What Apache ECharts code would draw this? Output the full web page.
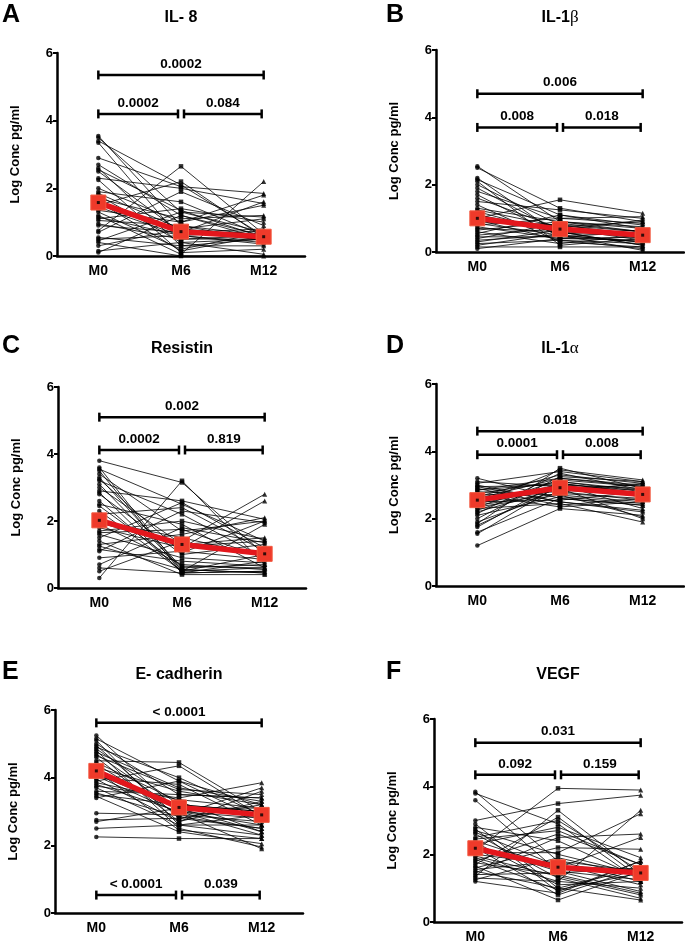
<!DOCTYPE html>
<html>
<head>
<meta charset="utf-8">
<script src="https://cdn.jsdelivr.net/npm/echarts@6/dist/echarts.min.js"></script>
<style>
  html, body { margin: 0; padding: 0; background: #fff; }
  #chart { width: 685px; height: 944px; }
</style>
</head>
<body>
<div id="chart"></div>
<script>
// time points and y ticks
const categories = ["M0", "M6", "M12"];
const yTicks = [0, 2, 4, 6];

// A: IL-8 (one value per subject per time point)
const aM0 = [3.55, 3.5, 3.4, 3.35, 2.9, 2.7, 2.6, 2.55, 2.5, 2.3, 2.25, 1.9, 1.85, 1.8, 1.7, 1.5, 1.45, 1.35, 1.3, 1.2, 1.1, 1.05, 0.95, 0.9, 0.75, 0.7, 0.55, 0.5, 0.45, 0.4, 0.3, 0.15, 0.1, 1.6, 2.0, 1.15];
const aM6 = [0.9, 1.3, 2.1, 0.5, 2.05, 1.2, 0.3, 1.35, 0.7, 2.0, 0.1, 1.6, 0.8, 0.4, 1.1, 2.2, 0.6, 1.0, 0.2, 0.05, 1.4, 0.9, 0.5, 0.7, 2.65, 1.9, 0.3, 0.6, 1.3, 0.0, 0.8, 0.4, 1.2, 0.15, 1.0, 0.6];
const aM12 = [0.6, 0.7, 0.6, 0.5, 1.85, 0.6, 0.5, 0.55, 0.8, 1.55, 0.2, 0.6, 1.1, 0.5, 1.2, 0.55, 0.4, 1.5, 0.7, 2.2, 1.0, 0.45, 0.6, 1.6, 0.65, 0.9, 0.3, 0.75, 1.15, 0.0, 0.6, 0.05, 0.5, 0.6, 1.8, 0.35];
const aMean = [1.58, 0.72, 0.57];
const aP = ["0.0002", "0.0002", "0.084"];

// B: IL-1beta
const bM0 = [2.55, 2.5, 2.2, 2.15, 2.1, 2.0, 1.9, 1.8, 1.7, 1.6, 1.5, 1.4, 1.3, 1.2, 1.1, 1.0, 0.95, 0.9, 0.85, 0.8, 0.75, 0.7, 0.65, 0.6, 0.55, 0.5, 0.45, 0.4, 0.35, 0.3, 0.25, 0.2, 0.15, 0.1, 1.25, 1.05];
const bM6 = [0.9, 1.3, 0.5, 1.1, 0.2, 0.8, 0.6, 1.0, 0.45, 0.7, 1.25, 0.3, 0.9, 0.55, 0.65, 1.55, 0.35, 0.8, 0.5, 1.0, 0.4, 0.6, 0.9, 0.25, 1.1, 0.7, 0.45, 0.85, 0.5, 0.65, 0.35, 0.55, 0.15, 0.4, 0.75, 0.6];
const bM12 = [0.6, 0.9, 0.3, 0.7, 0.4, 0.5, 0.2, 0.85, 0.6, 0.35, 1.0, 0.15, 0.75, 0.5, 0.95, 1.15, 0.1, 0.6, 0.3, 1.05, 0.45, 0.2, 0.7, 0.5, 0.8, 0.4, 0.3, 0.6, 0.05, 0.5, 0.25, 0.65, 0.15, 0.35, 0.9, 0.55];
const bMean = [1.0, 0.68, 0.5];
const bP = ["0.006", "0.008", "0.018"];

// C: Resistin
const cM0 = [3.8, 3.6, 3.55, 3.5, 3.4, 3.3, 3.2, 3.1, 3.0, 2.9, 2.85, 2.8, 2.5, 2.3, 2.2, 2.0, 1.9, 1.8, 1.7, 1.6, 1.5, 1.4, 1.3, 1.15, 1.1, 0.9, 0.7, 0.6, 0.5, 0.3, 2.6, 1.95, 2.45, 1.65, 3.25, 1.25];
const cM6 = [3.15, 0.5, 2.5, 0.45, 1.7, 0.6, 2.2, 0.55, 1.3, 2.6, 0.45, 1.0, 1.9, 0.5, 2.4, 1.5, 0.7, 1.2, 2.0, 0.9, 2.55, 0.4, 1.6, 0.8, 2.3, 1.1, 1.8, 0.45, 1.4, 3.2, 0.5, 1.25, 0.65, 1.75, 1.05, 0.55];
const cM12 = [1.0, 0.6, 1.4, 0.5, 2.0, 0.7, 0.9, 0.45, 1.5, 2.05, 0.8, 1.3, 0.6, 1.9, 1.1, 0.95, 0.55, 2.6, 1.45, 0.75, 1.2, 0.4, 2.1, 0.65, 1.95, 0.85, 1.35, 0.5, 2.8, 0.7, 1.0, 1.4, 0.6, 0.9, 2.0, 0.45];
const cMean = [2.02, 1.3, 1.02];
const cP = ["0.002", "0.0002", "0.819"];

// D: IL-1alpha
const dM0 = [3.2, 3.05, 3.0, 2.95, 2.9, 2.85, 2.8, 2.75, 2.7, 2.65, 2.6, 2.55, 2.5, 2.45, 2.4, 2.35, 2.3, 2.25, 2.2, 2.15, 2.1, 2.0, 1.9, 1.85, 1.8, 1.75, 1.6, 1.55, 1.2, 2.7, 2.6, 2.45, 2.85, 2.35, 3.1, 2.95];
const dM6 = [2.6, 3.4, 2.5, 3.0, 2.4, 3.2, 2.7, 3.1, 2.35, 3.3, 2.85, 3.0, 2.55, 3.45, 2.75, 3.15, 2.45, 3.05, 2.9, 3.35, 2.65, 3.25, 2.8, 3.5, 2.95, 3.1, 2.6, 3.0, 2.3, 2.8, 3.2, 2.9, 3.05, 2.7, 2.95, 2.5];
const dM12 = [2.4, 3.1, 2.2, 2.9, 2.6, 3.0, 2.05, 2.85, 2.5, 3.05, 2.7, 2.3, 2.8, 3.15, 2.6, 2.95, 1.9, 2.75, 3.0, 2.85, 2.45, 3.1, 2.55, 2.9, 2.65, 2.8, 2.4, 2.7, 2.1, 3.05, 2.95, 2.0, 2.75, 2.5, 2.85, 2.25];
const dMean = [2.55, 2.92, 2.72];
const dP = ["0.018", "0.0001", "0.008"];

// E: E-cadherin
const eM0 = [5.25, 5.15, 5.1, 5.0, 4.95, 4.9, 4.85, 4.8, 4.75, 4.7, 4.6, 4.5, 4.45, 4.4, 4.3, 4.2, 4.1, 4.0, 3.95, 3.9, 3.8, 3.75, 3.7, 3.6, 3.55, 3.5, 3.45, 3.4, 2.95, 2.75, 2.7, 2.5, 2.25, 4.65, 4.05, 3.85];
const eM6 = [3.0, 3.9, 2.6, 3.5, 2.8, 4.0, 3.2, 2.5, 3.7, 3.0, 2.7, 4.45, 3.3, 2.9, 3.6, 2.45, 3.1, 3.8, 2.7, 4.35, 3.0, 3.4, 2.6, 3.5, 2.85, 3.2, 2.4, 3.9, 2.9, 2.8, 3.1, 2.6, 2.2, 3.65, 2.95, 3.35];
const eM12 = [2.6, 3.2, 2.3, 3.4, 2.5, 2.9, 3.0, 1.95, 3.3, 2.8, 3.6, 3.0, 2.4, 2.7, 3.2, 2.2, 3.1, 2.6, 3.3, 2.85, 2.3, 3.85, 2.9, 3.4, 2.5, 3.0, 2.05, 2.75, 3.7, 3.2, 2.4, 2.6, 2.2, 3.5, 1.9, 3.1];
const eMean = [4.2, 3.12, 2.9];
const eP = ["< 0.0001", "< 0.0001", "0.039"];

// F: VEGF
const fM0 = [3.85, 3.8, 3.6, 3.0, 2.9, 2.8, 2.75, 2.7, 2.6, 2.5, 2.4, 2.35, 2.3, 2.2, 2.1, 2.0, 1.9, 1.8, 1.75, 1.7, 1.65, 1.6, 1.55, 1.5, 1.45, 1.4, 1.35, 1.3, 1.2, 2.25, 2.05, 1.85, 2.65, 1.95, 2.45, 1.25];
const fM6 = [1.8, 2.9, 1.5, 3.5, 1.0, 2.4, 0.9, 2.0, 1.3, 3.0, 1.6, 1.1, 2.8, 0.8, 3.95, 1.7, 1.2, 2.6, 1.4, 3.1, 0.65, 2.2, 1.8, 1.0, 2.5, 1.45, 3.3, 1.2, 0.85, 1.5, 2.05, 0.95, 1.65, 1.35, 2.7, 1.9];
const fM12 = [1.5, 1.2, 0.9, 3.75, 1.6, 1.3, 1.8, 1.4, 0.7, 1.5, 2.5, 1.2, 1.9, 1.6, 3.9, 1.1, 3.3, 1.7, 0.85, 1.3, 1.5, 2.15, 1.2, 0.65, 2.6, 1.6, 1.4, 1.0, 1.8, 1.25, 3.2, 1.45, 1.55, 0.8, 1.7, 1.35];
const fMean = [2.18, 1.62, 1.45];
const fP = ["0.031", "0.092", "0.159"];

const FONT = "'Liberation Sans', Arial, Helvetica, sans-serif";

// layout of the six panels
const panels = [
  { letter: "A", title: "{b|IL- 8}", m0: aM0, m6: aM6, m12: aM12, mean: aMean, p: aP, levels: [5.35, 4.2, 4.2],
    grid: { left: 57, top: 53, width: 248, height: 203 }, letterPos: [2, 15] },
  { letter: "B", title: "{b|IL-1}{g|β}", m0: bM0, m6: bM6, m12: bM12, mean: bMean, p: bP, levels: [4.7, 3.7, 3.7],
    grid: { left: 436, top: 50, width: 248, height: 202 }, letterPos: [386, 15] },
  { letter: "C", title: "{b|Resistin}", m0: cM0, m6: cM6, m12: cM12, mean: cMean, p: cP, levels: [5.1, 4.12, 4.12],
    grid: { left: 58, top: 387, width: 248, height: 201 }, letterPos: [2, 346] },
  { letter: "D", title: "{b|IL-1}{g|α}", m0: dM0, m6: dM6, m12: dM12, mean: dMean, p: dP, levels: [4.6, 3.9, 3.9],
    grid: { left: 436, top: 384, width: 248, height: 202 }, letterPos: [386, 346] },
  { letter: "E", title: "{b|E- cadherin}", m0: eM0, m6: eM6, m12: eM12, mean: eMean, p: eP, levels: [5.62, 0.53, 0.53],
    grid: { left: 55, top: 710, width: 248, height: 203 }, letterPos: [2, 672] },
  { letter: "F", title: "{b|VEGF}", m0: fM0, m6: fM6, m12: fM12, mean: fMean, p: fP, levels: [5.3, 4.35, 4.35],
    grid: { left: 434, top: 719, width: 248, height: 204 }, letterPos: [386, 672] },
];

const grids = [];
const xAxes = [];
const yAxes = [];
const series = [];
const graphics = [];

panels.forEach(function (pn, gi) {
  grids.push(Object.assign({ containLabel: false }, pn.grid));

  xAxes.push({
    gridIndex: gi,
    type: "category",
    data: categories,
    boundaryGap: true,
    axisLine: { lineStyle: { color: "#000", width: 2.5 } },
    axisTick: { alignWithLabel: true, length: 4, lineStyle: { color: "#000", width: 2 } },
    axisLabel: { color: "#000", fontWeight: "bold", fontSize: 14, fontFamily: FONT, margin: 8 },
    splitLine: { show: false },
  });

  yAxes.push({
    gridIndex: gi,
    type: "value",
    min: yTicks[0],
    max: yTicks[yTicks.length - 1],
    interval: 2,
    name: "Log Conc pg/ml",
    nameLocation: "middle",
    nameGap: 35,
    nameTextStyle: { color: "#000", fontWeight: "bold", fontSize: 13, fontFamily: FONT },
    axisLine: { show: true, lineStyle: { color: "#000", width: 2.5 } },
    axisTick: { show: true, length: 4, lineStyle: { color: "#000", width: 2 } },
    axisLabel: { color: "#000", fontWeight: "bold", fontSize: 13, fontFamily: FONT, margin: 4 },
    splitLine: { show: false },
  });

  // individual subject lines
  pn.m0.forEach(function (v, i) {
    series.push({
      type: "line",
      xAxisIndex: gi,
      yAxisIndex: gi,
      data: [v, pn.m6[i], pn.m12[i]],
      showSymbol: false,
      silent: true,
      lineStyle: { color: "#000", width: 0.8 },
      z: 2,
    });
  });

  // markers for each time point
  [[pn.m0, "circle", 4.5], [pn.m6, "rect", 4.5], [pn.m12, "triangle", 5]].forEach(function (m, k) {
    series.push({
      type: "scatter",
      xAxisIndex: gi,
      yAxisIndex: gi,
      data: m[0].map(function (v) { return [k, v]; }),
      symbol: m[1],
      symbolSize: m[2],
      itemStyle: { color: "#000" },
      silent: true,
      z: 3,
    });
  });

  // mean line
  series.push({
    type: "line",
    xAxisIndex: gi,
    yAxisIndex: gi,
    data: pn.mean,
    symbol: "rect",
    symbolSize: 15,
    lineStyle: { color: "#e3161c", width: 5.5 },
    itemStyle: { color: "#ef3a2a", borderColor: "#f25a40", borderWidth: 1 },
    silent: true,
    z: 5,
  });
  series.push({
    type: "scatter",
    xAxisIndex: gi,
    yAxisIndex: gi,
    data: pn.mean.map(function (v, k) { return [k, v]; }),
    symbol: "rect",
    symbolSize: 3,
    itemStyle: { color: "#000" },
    silent: true,
    z: 6,
  });

  // significance brackets: full span, M0-M6, M6-M12
  const spans = [[0, 2], [0, 1], [1, 2]];
  series.push({
    type: "custom",
    xAxisIndex: gi,
    yAxisIndex: gi,
    data: [[0], [1], [2]],
    silent: true,
    clip: false,
    z: 7,
    renderItem: function (params, api) {
      const idx = params.dataIndex;
      const s = spans[idx];
      const y = pn.levels[idx];
      const p0 = api.coord([s[0], y]);
      const p1 = api.coord([s[1], y]);
      let x0 = p0[0];
      let x1 = p1[0];
      if (idx === 1) x1 -= 3;
      if (idx === 2) { x0 += 3; x1 -= 2; }
      const yy = p0[1];
      const st = { stroke: "#000", lineWidth: 2.5 };
      return {
        type: "group",
        children: [
          { type: "line", shape: { x1: x0, y1: yy, x2: x1, y2: yy }, style: st },
          { type: "line", shape: { x1: x0, y1: yy - 4.5, x2: x0, y2: yy + 4.5 }, style: st },
          { type: "line", shape: { x1: x1, y1: yy - 4.5, x2: x1, y2: yy + 4.5 }, style: st },
          {
            type: "text",
            style: {
              text: pn.p[idx],
              x: (x0 + x1) / 2,
              y: yy - 11,
              align: "center",
              verticalAlign: "middle",
              font: "bold 13.5px " + FONT,
              fill: "#000",
            },
          },
        ],
      };
    },
  });

  // panel letter and title
  graphics.push({
    type: "text",
    left: pn.letterPos[0],
    top: pn.letterPos[1] - 12,
    style: { text: pn.letter, font: "bold 25px " + FONT, fill: "#000" },
  });
  const cx = pn.grid.left + pn.grid.width / 2;
  graphics.push({
    type: "text",
    x: cx,
    y: pn.letterPos[1] + 3,
    style: {
      text: pn.title,
      align: "center",
      verticalAlign: "middle",
      rich: {
        b: { fill: "#000", fontWeight: "bold", fontSize: 16, fontFamily: FONT },
        g: { fontSize: 17, fontFamily: "'Liberation Serif', 'DejaVu Serif', serif", fill: "#000" },
      },
    },
  });
});

const chart = echarts.init(document.getElementById("chart"));
chart.setOption({
  animation: false,
  backgroundColor: "#fff",
  grid: grids,
  xAxis: xAxes,
  yAxis: yAxes,
  series: series,
  graphic: graphics,
});
</script>
</body>
</html>
